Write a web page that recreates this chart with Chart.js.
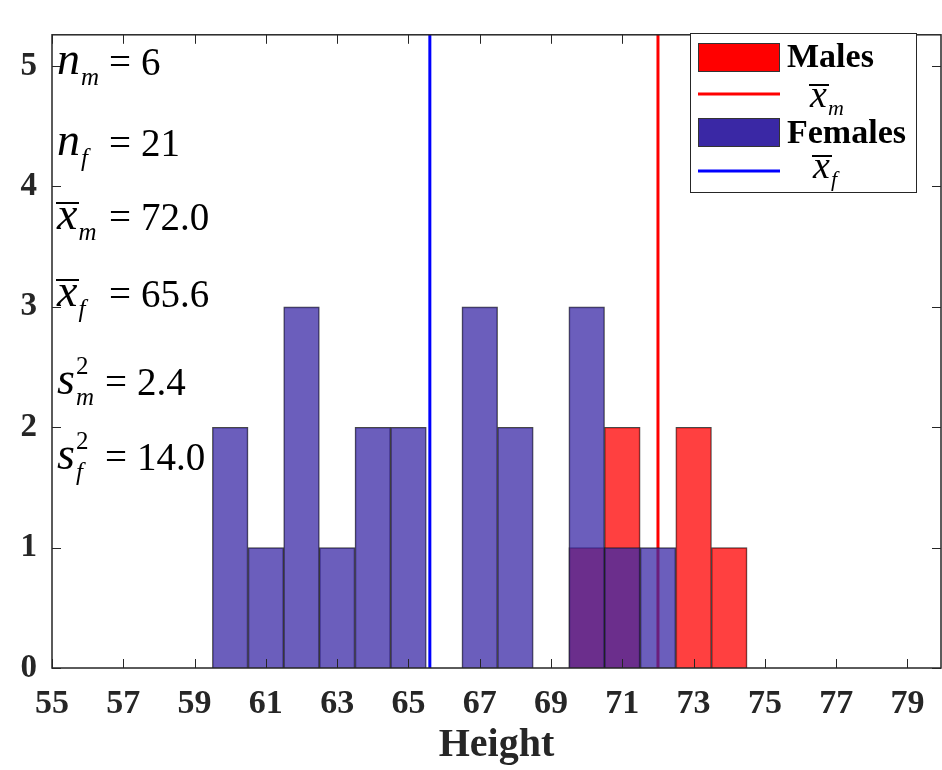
<!DOCTYPE html>
<html>
<head>
<meta charset="utf-8">
<script src="https://cdn.jsdelivr.net/npm/chart.js@4.4.0/dist/chart.umd.min.js"></script>
<style>
  html, body { margin: 0; padding: 0; background: #fff; }
  #wrap { position: relative; width: 942px; height: 770px; }
  #labels { position: absolute; left: 0; top: 0; width: 942px; height: 770px; pointer-events: none; }
  #labels span { position: absolute; white-space: nowrap; line-height: 1; color: #000;
                 font-family: "Liberation Serif", "Times New Roman", serif; }
  #labels .bar { position: absolute; height: 2px; background: #000; }
</style>
</head>
<body>
<div id="wrap">
  <canvas id="HistChart" width="942" height="770"></canvas>
  <div id="labels"></div>
</div>
<script>
// histogram bins (centres, width 1) and counts
const binCenters   = [60, 61, 62, 63, 64, 65, 66, 67, 68, 69, 70, 71, 72, 73, 74];
const femaleCounts = [ 2,  1,  3,  1,  2,  2,  0,  3,  2,  0,  3,  1,  1,  0,  0];
const maleCounts   = [ 0,  0,  0,  0,  0,  0,  0,  0,  0,  0,  1,  2,  0,  2,  1];
const maleMean = 72.0;
const femaleMean = 65.6;
const xTicks = [55, 57, 59, 61, 63, 65, 67, 69, 71, 73, 75, 77, 79];
const yTicks = [0, 1, 2, 3, 4, 5];
const xMin = 55, xMax = 79.94, yMax = 5.26;

// stats text block: variable, subscript, superscript, overline, value
const statVars   = ['n', 'n', 'x', 'x', 's', 's'];
const statSubs   = ['m', 'f', 'm', 'f', 'm', 'f'];
const statSups   = ['', '', '', '', '2', '2'];
const statBars   = [false, false, true, true, false, false];
const statValues = ['6', '21', '72.0', '65.6', '2.4', '14.0'];

const FEMALE = 'rgb(58, 40, 165)';
const MALE = 'rgb(255, 0, 0)';
const INK = '#262626';
const SERIF = '"Liberation Serif", "Times New Roman", serif';

function toPoints(counts) {
  const pts = [];
  counts.forEach((c, i) => { if (c > 0) pts.push({ x: binCenters[i], y: c }); });
  return pts;
}

// html text placed by its baseline
const labelLayer = document.getElementById('labels');
function addText(txt, x, base, size, style, weight) {
  const s = document.createElement('span');
  s.textContent = txt;
  s.style.left = x + 'px';
  s.style.top = (base - 0.8375 * size) + 'px';
  s.style.fontSize = size + 'px';
  s.style.fontStyle = style || 'normal';
  s.style.fontWeight = weight || 'normal';
  labelLayer.appendChild(s);
  return s;
}
function addBar(x, y, w) {
  const d = document.createElement('div');
  d.className = 'bar';
  d.style.left = x + 'px';
  d.style.top = y + 'px';
  d.style.width = w + 'px';
  labelLayer.appendChild(d);
}

function drawVar(x, base, v, sub, sup, bar, size, subSize) {
  const el = addText(v, x, base, size, 'italic');
  const w = el.getBoundingClientRect().width;
  if (bar) addBar(x - 1, base - size * 0.6, w + 3);
  addText(sub, x + w + 1, base + size * 0.22, subSize, 'italic');
  if (sup) addText(sup, x + w + 1, base - size * 0.45, subSize);
}

function buildLabels() {
  const bases = [75, 156, 230, 307, 395, 470];
  statVars.forEach((v, i) => {
    const base = bases[i];
    drawVar(57, base, v, statSubs[i], statSups[i], statBars[i], 46, 25);
    const eqX = statSups[i] ? 105 : 109;
    addText('=', eqX, base, 39);
    addText(statValues[i], eqX + 32, base, 39);
  });
  addText('Males', 787, 67, 34, 'normal', 'bold');
  addText('Females', 787, 143, 34, 'normal', 'bold');
  drawVar(810, 107, 'x', 'm', '', true, 38, 22);
  drawVar(813, 178, 'x', 'f', '', true, 38, 22);
}

const frame = {
  id: 'frame',
  afterDatasetsDraw(chart) {
    const { ctx, chartArea: a, scales: { x, y } } = chart;
    ctx.save();
    ctx.strokeStyle = INK;
    ctx.lineWidth = 1.5;
    ctx.strokeRect(a.left, a.top, a.right - a.left, a.bottom - a.top);
    ctx.lineWidth = 1;
    ctx.beginPath();
    xTicks.forEach(v => {
      const px = Math.round(x.getPixelForValue(v)) + 0.5;
      ctx.moveTo(px, a.bottom); ctx.lineTo(px, a.bottom - 9);
      ctx.moveTo(px, a.top); ctx.lineTo(px, a.top + 9);
    });
    yTicks.forEach(v => {
      const py = Math.round(y.getPixelForValue(v)) + 0.5;
      ctx.moveTo(a.left, py); ctx.lineTo(a.left + 9, py);
      ctx.moveTo(a.right, py); ctx.lineTo(a.right - 9, py);
    });
    ctx.stroke();
    ctx.restore();
  },
  afterDraw(chart) {
    const ctx = chart.ctx;
    ctx.save();
    // legend frame and swatches
    ctx.fillStyle = '#fff';
    ctx.fillRect(690, 33, 227, 160);
    ctx.strokeStyle = INK;
    ctx.lineWidth = 1;
    ctx.strokeRect(690.5, 33.5, 226, 159);

    ctx.fillStyle = MALE;
    ctx.fillRect(698, 43, 82, 29);
    ctx.strokeStyle = '#333';
    ctx.strokeRect(698.5, 43.5, 81, 28);
    ctx.fillStyle = FEMALE;
    ctx.fillRect(698, 118, 82, 29);
    ctx.strokeRect(698.5, 118.5, 81, 28);

    ctx.lineWidth = 3;
    ctx.strokeStyle = MALE;
    ctx.beginPath(); ctx.moveTo(698, 94); ctx.lineTo(780, 94); ctx.stroke();
    ctx.strokeStyle = '#0000ff';
    ctx.beginPath(); ctx.moveTo(698, 171); ctx.lineTo(780, 171); ctx.stroke();
    ctx.restore();
  }
};

const tickFont = { family: SERIF, size: 34, weight: 'bold' };

new Chart(document.getElementById('HistChart').getContext('2d'), {
  type: 'bar',
  data: {
    datasets: [
      {
        label: 'Females',
        data: toPoints(femaleCounts),
        backgroundColor: 'rgba(58, 40, 165, 0.75)',
        borderColor: 'rgba(25, 25, 25, 0.8)',
        borderWidth: 1,
        grouped: false,
        barPercentage: 1,
        categoryPercentage: 1,
        order: 0
      },
      {
        type: 'line',
        label: 'female mean',
        data: [{ x: femaleMean, y: 0 }, { x: femaleMean, y: yMax }],
        borderColor: '#0000ff',
        borderWidth: 3,
        pointRadius: 0,
        order: 1
      },
      {
        type: 'line',
        label: 'male mean',
        data: [{ x: maleMean, y: 0 }, { x: maleMean, y: yMax }],
        borderColor: '#ff0000',
        borderWidth: 3,
        pointRadius: 0,
        order: 2
      },
      {
        label: 'Males',
        data: toPoints(maleCounts),
        backgroundColor: 'rgba(255, 0, 0, 0.75)',
        borderColor: 'rgba(25, 25, 25, 0.8)',
        borderWidth: 1,
        grouped: false,
        barPercentage: 1,
        categoryPercentage: 1,
        order: 3
      }
    ]
  },
  options: {
    responsive: false,
    animation: false,
    layout: { padding: { top: 7, right: 1, left: 0, bottom: 0 } },
    plugins: { legend: { display: false }, tooltip: { enabled: false } },
    scales: {
      x: {
        type: 'linear',
        min: xMin,
        max: xMax,
        offset: false,
        afterBuildTicks: s => { s.ticks = xTicks.map(v => ({ value: v })); },
        afterFit: s => { s.height = 102; },
        grid: { display: false, drawTicks: false, offset: false },
        border: { display: false },
        ticks: { font: tickFont, color: INK, padding: 16, maxRotation: 0, autoSkip: false },
        title: { display: true, text: 'Height', color: INK, padding: 0,
                 font: { family: SERIF, size: 40, weight: 'bold' } }
      },
      y: {
        min: 0,
        max: yMax,
        afterBuildTicks: s => { s.ticks = yTicks.map(v => ({ value: v })); },
        afterFit: s => { s.width = 52; },
        grid: { display: false, drawTicks: false },
        border: { display: false },
        ticks: { font: { family: SERIF, size: 33, weight: 'bold' }, color: INK, padding: 15 }
      }
    }
  },
  plugins: [frame]
});

buildLabels();
</script>
</body>
</html>
